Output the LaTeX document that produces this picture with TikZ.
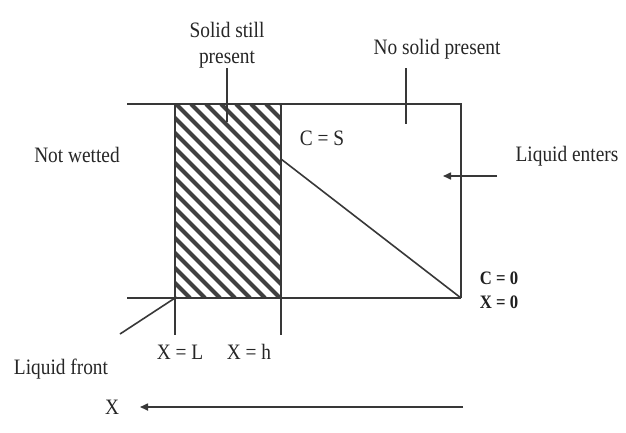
\documentclass[tikz,border=0pt]{standalone}
\usepackage{fontspec}
\setmainfont{Liberation Serif}[FakeStretch=0.88]
\usetikzlibrary{arrows.meta}
\begin{document}
\begin{tikzpicture}[x=1pt,y=-1pt,
  ln/.style={line width=1.6pt,draw=black!78},
  hatchln/.style={line width=4.2pt,draw=black!75},
  lbl/.style={inner sep=0pt,font=\fontsize{22}{26}\selectfont,text=black!85},
  blbl/.style={inner sep=0pt,font=\fontsize{19}{22}\selectfont\bfseries,text=black!88},
  arr/.style={ln,-{Triangle[length=8pt,width=7pt]}}]
\useasboundingbox (0,0) rectangle (626,432);
\fill[white] (0,0) rectangle (626,432);
% coordinates
\coordinate (TL) at (127,104);
\coordinate (BL) at (127,298);
\coordinate (TR) at (461,104);
\coordinate (BR) at (461,298);
\coordinate (HTL) at (175,104);
\coordinate (HBL) at (175,298);
\coordinate (HTR) at (281,104);
\coordinate (HBR) at (281,298);
\coordinate (HL) at (175,335);
\coordinate (HH) at (281,335);
\coordinate (DS) at (281,159);
% hatching
\begin{scope}
\clip (HTL) rectangle (HBR);
\foreach \k in {-14,...,8}{
  \draw[hatchln] ({176+\k*15},104) -- ({176+\k*15+194},298);
}
\end{scope}
% box lines
\draw[ln] (TL) -- (TR) -- (BR);
\draw[ln] (BL) -- (BR);
\draw[ln] (HTL) -- (HL);
\draw[ln] (HTR) -- (HH);
\draw[ln] (DS) -- (BR);
% labels
\node[lbl,align=center] (solid) at (227,45) {Solid still\\present};
\coordinate (solidA) at (227,68);
\coordinate (solidB) at (227,122);
\draw[ln] (solidA) -- (solidB);
\node[lbl] (nosolid) at (437,49) {No solid present};
\coordinate (nsA) at (406,68);
\coordinate (nsB) at (406,124);
\draw[ln] (nsA) -- (nsB);
\node[lbl] (notwet) at (77,155) {Not wetted};
\node[lbl] (cs) at (322,138) {C = S};
\node[lbl] (enters) at (567,156) {Liquid enters};
\coordinate (entA) at (497,176);
\coordinate (entB) at (443,176);
\draw[arr] (entA) -- (entB);
\node[blbl] (c0) at (499,278) {C = 0};
\node[blbl] (x0) at (499,302) {X = 0};
\node[lbl] (xl) at (180,352) {X = L};
\node[lbl] (xh) at (249,352) {X = h};
\node[lbl] (front) at (61,369) {Liquid front};
\coordinate (frontA) at (120,334);
\draw[ln] (frontA) -- (HBL);
\node[lbl] (xx) at (112,407) {X};
\coordinate (xA) at (463,407);
\coordinate (xB) at (140,407);
\draw[arr] (xA) -- (xB);
\end{tikzpicture}
\end{document}
